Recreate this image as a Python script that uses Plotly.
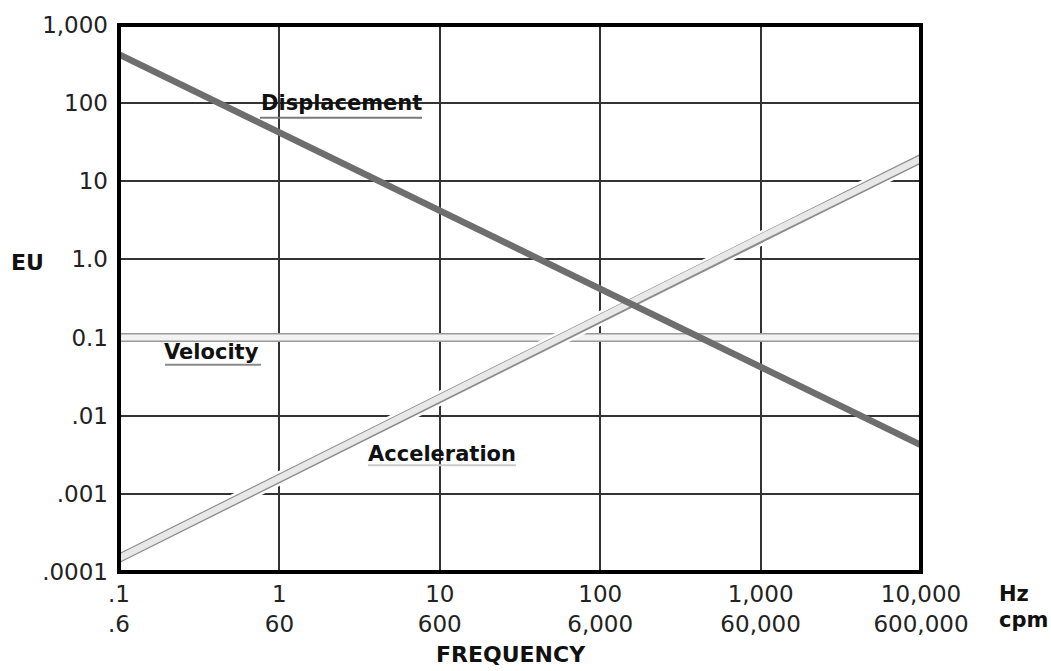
import plotly.graph_objects as go

# Frequency decades (Hz) and the three vibration quantities (engineering units)
freq_hz = [0.1, 1, 10, 100, 1000, 10000]
displacement = [420, 42, 4.2, 0.42, 0.042, 0.0042]
velocity = [0.1, 0.1, 0.1, 0.1, 0.1, 0.1]
acceleration = [0.00015, 0.0016, 0.017, 0.18, 1.9, 19.5]

# Axis tick labels
x_tick_vals = [0.1, 1, 10, 100, 1000, 10000]
x_tick_hz = [".1", "1", "10", "100", "1,000", "10,000"]
x_tick_cpm = [".6", "60", "600", "6,000", "60,000", "600,000"]
y_tick_vals = [0.0001, 0.001, 0.01, 0.1, 1, 10, 100, 1000]
y_tick_text = [".0001", ".001", ".01", "0.1", "1.0", "10", "100", "1,000"]

W, H = 1051, 671
L, R, T, B = 119, 130, 18, 99
PW, PH = W - L - R, H - T - B


def px(x):
    return (x - L) / PW


def py(y):
    return (H - B - y) / PH


FONT = "DejaVu Sans"
fig = go.Figure()

# Velocity: light band with grey outline
fig.add_trace(go.Scatter(x=freq_hz, y=velocity, mode="lines",
                         line=dict(color="#9a9a9a", width=9), hoverinfo="skip"))
fig.add_trace(go.Scatter(x=freq_hz, y=velocity, mode="lines",
                         line=dict(color="#f2f2f2", width=6), name="Velocity"))

# Acceleration: white halo, grey outline, light fill
fig.add_trace(go.Scatter(x=freq_hz, y=acceleration, mode="lines",
                         line=dict(color="white", width=14), hoverinfo="skip"))
fig.add_trace(go.Scatter(x=freq_hz, y=acceleration, mode="lines",
                         line=dict(color="#8c8c8c", width=9), hoverinfo="skip"))
fig.add_trace(go.Scatter(x=freq_hz, y=acceleration, mode="lines",
                         line=dict(color="#e8e8e8", width=6.5), name="Acceleration"))

# Displacement: solid dark grey
fig.add_trace(go.Scatter(x=freq_hz, y=displacement, mode="lines",
                         line=dict(color="#6e6e6e", width=6.5), name="Displacement"))

shapes = []
# White boxes behind the curve labels (hide gridlines)
for x0, x1, y0, y1 in [(253, 425, 82, 120), (361, 523, 433, 473)]:
    shapes.append(dict(type="rect", xref="paper", yref="paper",
                       x0=px(x0), x1=px(x1), y0=py(y1), y1=py(y0),
                       fillcolor="white", line=dict(width=0), layer="between"))
# Underlines of the curve labels
for x0, x1, y, c in [(260, 422, 112, "#7a7a7a"), (165, 261, 362, "#8a8a8a"),
                     (368, 516, 464, "#cccccc")]:
    shapes.append(dict(type="line", xref="paper", yref="paper",
                       x0=px(x0), x1=px(x1), y0=py(y), y1=py(y),
                       line=dict(color=c, width=2), layer="above"))
# Heavy plot frame
shapes.append(dict(type="rect", xref="paper", yref="paper", x0=0, x1=1, y0=0, y1=1,
                   line=dict(color="black", width=4), layer="above"))

annotations = []
for text, x, y in [("Displacement", 341, 97), ("Velocity", 211, 349),
                   ("Acceleration", 442, 452)]:
    annotations.append(dict(text=f"<b>{text}</b>", xref="paper", yref="paper",
                            x=px(x), y=py(y), xanchor="center", yanchor="middle",
                            showarrow=False, font=dict(family=FONT, size=21, color="#111")))
annotations += [
    dict(text="<b>EU</b>", xref="paper", yref="paper", x=px(27), y=py(259),
         xanchor="center", yanchor="middle", showarrow=False,
         font=dict(family=FONT, size=22, color="#111")),
    dict(text="<b>FREQUENCY</b>", xref="paper", yref="paper", x=px(511), y=py(656),
         xanchor="center", yanchor="middle", showarrow=False,
         font=dict(family=FONT, size=22, color="#111")),
    dict(text="<b>Hz</b>", xref="paper", yref="paper", x=px(997), y=py(594),
         xanchor="left", yanchor="middle", showarrow=False,
         font=dict(family=FONT, size=21, color="#111")),
    dict(text="<b>cpm</b>", xref="paper", yref="paper", x=px(997), y=py(621),
         xanchor="left", yanchor="middle", showarrow=False,
         font=dict(family=FONT, size=21, color="#111")),
]

fig.update_layout(
    width=W, height=H,
    margin=dict(l=L, r=R, t=T, b=B, pad=0),
    paper_bgcolor="white", plot_bgcolor="white",
    showlegend=False,
    shapes=shapes, annotations=annotations,
    xaxis=dict(type="log", range=[-1, 4], tickmode="array", tickvals=x_tick_vals,
               ticktext=[f"{a}<br>{b}" for a, b in zip(x_tick_hz, x_tick_cpm)],
               showgrid=True, gridcolor="#333333", gridwidth=2, zeroline=False,
               ticks="", ticklabelstandoff=6,
               tickfont=dict(family=FONT, size=23, color="#222")),
    yaxis=dict(type="log", range=[-4, 3], tickmode="array", tickvals=y_tick_vals,
               ticktext=y_tick_text,
               showgrid=True, gridcolor="#333333", gridwidth=2, zeroline=False,
               ticks="", ticklabelstandoff=10,
               tickfont=dict(family=FONT, size=23, color="#222")),
)

fig.write_html("out.html")
